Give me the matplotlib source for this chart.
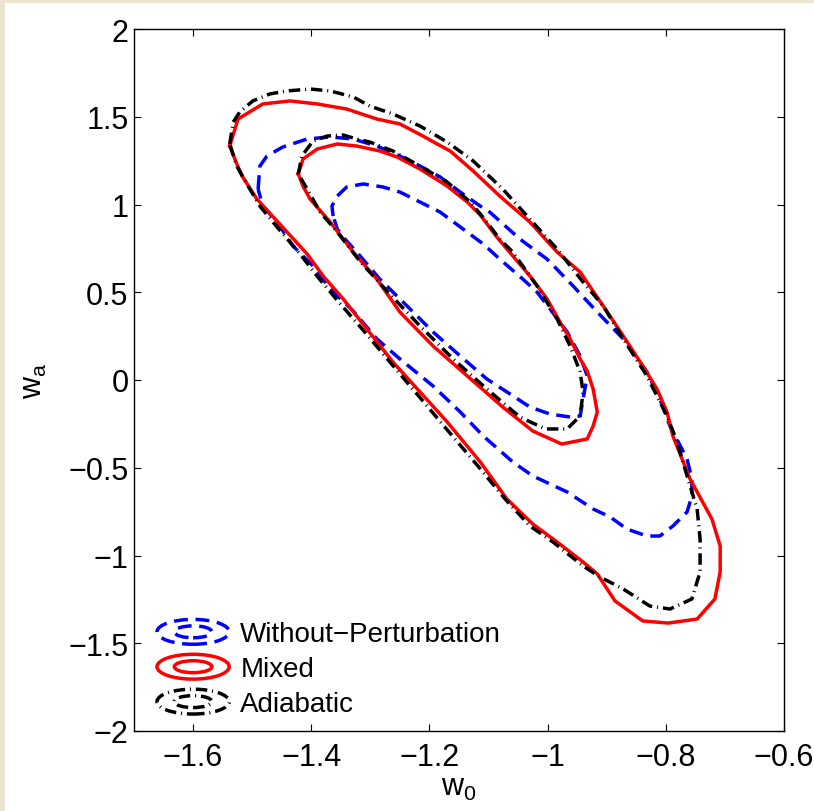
"""
**w0wa_contours.py** Draw the 68% and 95% confidence contours in the (w0, wa) plane
for the three perturbation treatments, with MATLAB-like styling.
"""

import numpy as np
import matplotlib

matplotlib.use("Agg")
import matplotlib.pyplot as plt
from matplotlib.patches import Ellipse, Rectangle
from matplotlib.legend_handler import HandlerBase
from matplotlib.ticker import FuncFormatter

#
# --- Contour data (w0, wa), closed curves
#
nopert_w0_95 = [-1.490, -1.487, -1.475, -1.448, -1.407, -1.368, -1.329, -1.289, -1.250, -1.216,
                -1.182, -1.148, -1.114, -1.098, -1.047, -1.001, -0.957, -0.916, -0.872, -0.832,
                -0.810, -0.793, -0.764, -0.756, -0.756, -0.764, -0.788, -0.810, -0.832, -0.866,
                -0.894, -0.923, -0.967, -1.025, -1.059, -1.109, -1.148, -1.194, -1.250, -1.289,
                -1.329, -1.368, -1.397, -1.431, -1.458, -1.482]
nopert_wa_95 = [1.088, 1.219, 1.276, 1.328, 1.373, 1.385, 1.373, 1.333, 1.276, 1.219,
                1.157, 1.071, 0.991, 0.957, 0.803, 0.689, 0.536, 0.387, 0.234, 0.046,
                -0.108, -0.262, -0.450, -0.564, -0.661, -0.752, -0.832, -0.889, -0.889, -0.849,
                -0.781, -0.735, -0.638, -0.547, -0.467, -0.319, -0.182, -0.034, 0.120, 0.234,
                0.393, 0.519, 0.650, 0.764, 0.900, 0.991]
nopert_w0_68 = [-1.363, -1.365, -1.356, -1.340, -1.312, -1.279, -1.250, -1.216, -1.182, -1.143,
                -1.109, -1.081, -1.042, -1.018, -0.996, -0.967, -0.945, -0.933, -0.940, -0.945,
                -0.962, -0.996, -1.030, -1.069, -1.103, -1.148, -1.194, -1.238, -1.284, -1.323,
                -1.343, -1.356]
nopert_wa_68 = [0.934, 0.991, 1.048, 1.100, 1.117, 1.100, 1.071, 1.014, 0.957, 0.860,
                0.775, 0.689, 0.575, 0.501, 0.405, 0.274, 0.137, 0.023, -0.108, -0.205,
                -0.211, -0.194, -0.154, -0.068, 0.006, 0.137, 0.274, 0.422, 0.575, 0.729,
                0.803, 0.860]

mixed_w0_95 = [-1.538, -1.524, -1.482, -1.436, -1.390, -1.340, -1.289, -1.250, -1.211, -1.187,
               -1.165, -1.126, -1.081, -1.030, -0.984, -0.945, -0.906, -0.872, -0.839, -0.815,
               -0.798, -0.788, -0.759, -0.722, -0.708, -0.708, -0.717, -0.747, -0.796, -0.839,
               -0.886, -0.916, -0.940, -0.984, -1.025, -1.069, -1.114, -1.170, -1.262, -1.306,
               -1.346, -1.380, -1.397, -1.407, -1.441, -1.492, -1.517, -1.526]
mixed_wa_95 = [1.333, 1.487, 1.573, 1.590, 1.573, 1.544, 1.487, 1.459, 1.390, 1.345,
               1.305, 1.191, 1.048, 0.900, 0.729, 0.615, 0.422, 0.251, 0.080, -0.051,
               -0.182, -0.319, -0.564, -0.792, -0.946, -1.094, -1.248, -1.362, -1.385, -1.373,
               -1.259, -1.105, -1.037, -0.923, -0.821, -0.678, -0.467, -0.239, 0.103, 0.291,
               0.462, 0.593, 0.672, 0.718, 0.843, 1.031, 1.162, 1.231]
mixed_w0_68 = [-1.422, -1.414, -1.390, -1.356, -1.323, -1.284, -1.255, -1.216, -1.170, -1.136,
               -1.114, -1.086, -1.059, -1.030, -1.001, -0.979, -0.962, -0.945, -0.933, -0.923,
               -0.916, -0.923, -0.933, -0.976, -1.025, -1.076, -1.136, -1.194, -1.250, -1.289,
               -1.329, -1.368, -1.402, -1.414]
mixed_wa_68 = [1.174, 1.259, 1.316, 1.345, 1.333, 1.305, 1.271, 1.202, 1.105, 1.014,
               0.940, 0.815, 0.707, 0.593, 0.462, 0.330, 0.234, 0.120, 0.051, -0.051,
               -0.182, -0.262, -0.336, -0.365, -0.291, -0.154, 0.023, 0.194, 0.387, 0.575,
               0.729, 0.900, 1.031, 1.105]

adiab_w0_95 = [-1.538, -1.532, -1.521, -1.499, -1.470, -1.441, -1.402, -1.368, -1.329, -1.301,
               -1.262, -1.216, -1.170, -1.126, -1.076, -1.030, -0.984, -0.940, -0.906, -0.872,
               -0.832, -0.798, -0.781, -0.764, -0.747, -0.742, -0.742, -0.756, -0.793, -0.827,
               -0.872, -0.911, -0.940, -0.991, -1.030, -1.072, -1.118, -1.174, -1.267, -1.314,
               -1.355, -1.389, -1.419, -1.458, -1.487, -1.509, -1.526]
adiab_wa_95 = [1.345, 1.470, 1.527, 1.590, 1.630, 1.647, 1.658, 1.647, 1.613, 1.561,
               1.516, 1.447, 1.356, 1.248, 1.088, 0.917, 0.746, 0.558, 0.422, 0.234,
               0.023, -0.205, -0.353, -0.547, -0.735, -0.906, -1.094, -1.248, -1.305, -1.288,
               -1.191, -1.123, -1.060, -0.923, -0.832, -0.678, -0.490, -0.268, 0.103, 0.291,
               0.450, 0.587, 0.718, 0.872, 0.991, 1.117, 1.219]
adiab_w0_68 = [-1.422, -1.416, -1.397, -1.373, -1.346, -1.323, -1.301, -1.262, -1.216, -1.170,
               -1.131, -1.111, -1.081, -1.059, -1.018, -0.984, -0.962, -0.945, -0.940, -0.945,
               -0.967, -1.004, -1.047, -1.103, -1.160, -1.216, -1.272, -1.318, -1.356, -1.385,
               -1.407]
adiab_wa_68 = [1.174, 1.276, 1.362, 1.390, 1.396, 1.373, 1.356, 1.305, 1.219, 1.128,
               1.014, 0.934, 0.803, 0.729, 0.536, 0.348, 0.194, 0.046, -0.068, -0.205,
               -0.279, -0.279, -0.211, -0.051, 0.120, 0.308, 0.507, 0.678, 0.843, 0.957,
               1.088]

labels = ["Without\u2212Perturbation", "Mixed", "Adiabatic"]
x_ticks = [-1.6, -1.4, -1.2, -1.0, -0.8, -0.6]
y_ticks = [-2, -1.5, -1, -0.5, 0, 0.5, 1, 1.5, 2]

#
# --- Line styles (dash lengths are in units of the line width)
#
_LW = 2.5
_STYLES = [
    {"color": "#0000ff", "dashes": (4.0, 2.2)},
    {"color": "#ff0000", "dashes": None},
    {"color": "#000000", "dashes": (3.3, 1.4, 0.3, 1.4)},
]

plt.rcParams["font.family"] = ["Liberation Sans", "DejaVu Sans"]
plt.rcParams["mathtext.fontset"] = "custom"
plt.rcParams["mathtext.rm"] = "Liberation Sans"
plt.rcParams["mathtext.it"] = "Liberation Sans"


class ContourHandler(HandlerBase):
    """Legend key drawn as two nested ellipses in the contour style."""

    def __init__(self, style):
        super().__init__()
        self.style = style

    def create_artists(self, legend, orig_handle, xdescent, ydescent,
                       width, height, fontsize, trans):
        cx = width / 2 - xdescent
        cy = height / 2 - ydescent
        ls = "-" if self.style["dashes"] is None else (0, self.style["dashes"])
        rings = []
        for sx, sy in [(1.0, 1.0), (0.52, 0.48)]:
            ring = Ellipse((cx, cy), width * sx, height * sy, fill=False,
                           edgecolor=self.style["color"], linewidth=_LW,
                           linestyle=ls, transform=trans)
            rings.append(ring)
        return rings


def closed(xs, ys):
    """Append the first point so the contour is drawn closed."""
    return np.append(xs, xs[0]), np.append(ys, ys[0])


def draw_contour(ax, xs, ys, style, zorder):
    x, y = closed(xs, ys)
    kw = {"color": style["color"], "lw": _LW, "zorder": zorder,
          "solid_joinstyle": "round", "dash_joinstyle": "round"}
    if style["dashes"] is None:
        return ax.plot(x, y, "-", **kw)[0]
    return ax.plot(x, y, dashes=style["dashes"], **kw)[0]


fig = plt.figure(figsize=(8.14, 8.12), dpi=100, facecolor="#ece6d0")
#
# --- White page over the paper background
#
page = Rectangle((5 / 814, 0), 1, 808 / 812, transform=fig.transFigure,
                 facecolor="white", edgecolor="none", zorder=-10)
fig.add_artist(page)

ax = fig.add_axes([134 / 814, 80 / 812, 650 / 814, 702 / 812])

contours = [
    (nopert_w0_95, nopert_wa_95, nopert_w0_68, nopert_wa_68),
    (mixed_w0_95, mixed_wa_95, mixed_w0_68, mixed_wa_68),
    (adiab_w0_95, adiab_wa_95, adiab_w0_68, adiab_wa_68),
]
handles = []
for i, (x95, y95, x68, y68) in enumerate(contours):
    h = draw_contour(ax, x95, y95, _STYLES[i], 2 + i)
    draw_contour(ax, x68, y68, _STYLES[i], 2 + i)
    handles.append(h)

#
# --- Axes
#
ax.set_xlim(-1.7, -0.6)
ax.set_ylim(-2, 2)
ax.set_xticks(x_ticks)
ax.set_yticks(y_ticks)
fmt = FuncFormatter(lambda v, pos: f"{v:g}".replace("-", "\u2212"))
ax.xaxis.set_major_formatter(fmt)
ax.yaxis.set_major_formatter(fmt)
ax.tick_params(direction="in", top=True, right=True, length=5, width=0.8,
               labelsize=22)
ax.tick_params(axis="x", pad=8)
ax.tick_params(axis="y", pad=4)
for sp in ax.spines.values():
    sp.set_linewidth(1.0)

ax.set_xlabel(r"$\mathregular{w_0}$", fontsize=22, labelpad=0)
ax.set_ylabel(r"$\mathregular{w_a}$", fontsize=22, labelpad=14)

#
# --- Legend with nested-ellipse keys
#
ax.legend(handles, labels, loc="lower left", frameon=False, fontsize=20,
          handler_map={h: ContourHandler(s) for h, s in zip(handles, _STYLES)},
          handlelength=2.6, handleheight=1.0, handletextpad=0.4,
          labelspacing=0.25, borderaxespad=0.1, bbox_to_anchor=(0.014, 0.0))

fig.savefig("out.png", dpi=100, facecolor=fig.get_facecolor())
